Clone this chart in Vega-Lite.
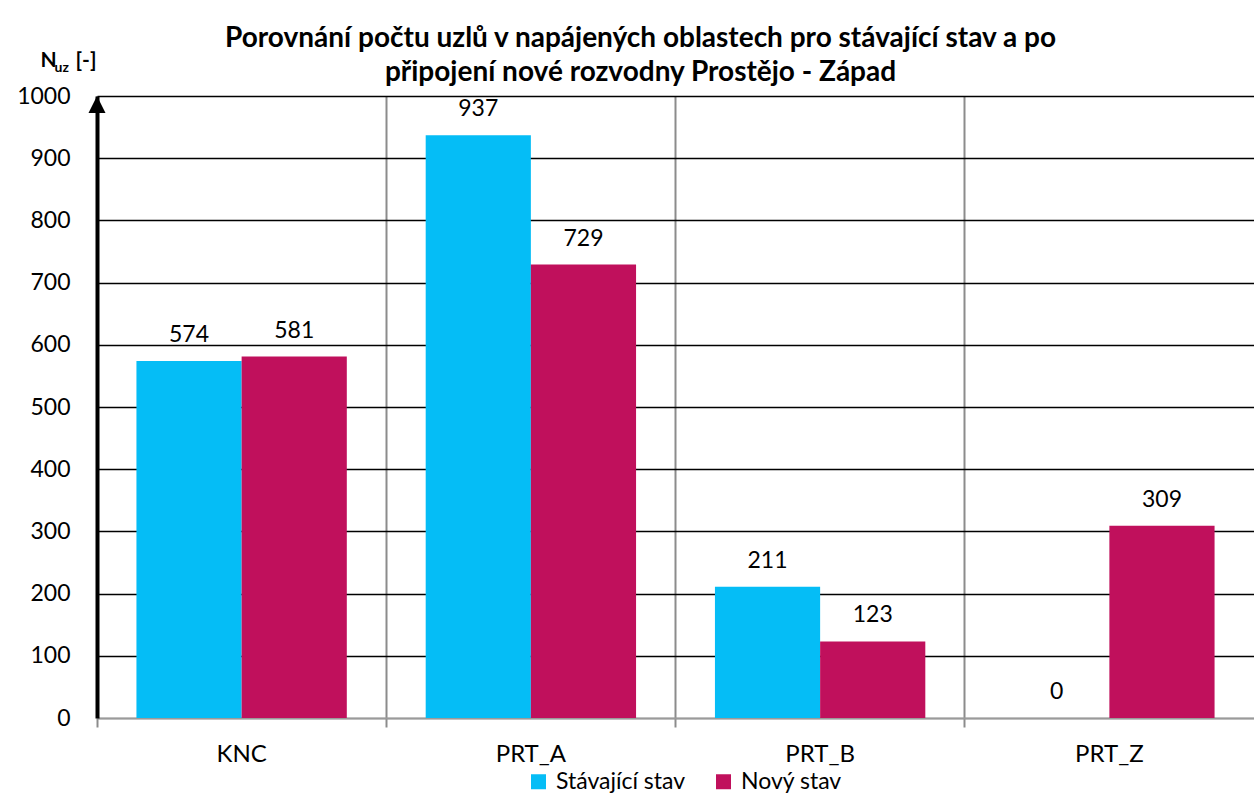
{
  "$schema": "https://vega.github.io/schema/vega-lite/v6.json",
  "width": 1157,
  "height": 622,
  "autosize": {"type": "none"},
  "padding": {"left": 97, "top": 96, "right": 0, "bottom": 78},
  "background": "white",
  "config": {
    "font": "Lato",
    "view": {"stroke": null},
    "axis": {"labelFont": "Lato", "titleFont": "Lato"}
  },
  "title": {
    "text": ["Porovnání počtu uzlů v napájených oblastech pro stávající stav a po", "připojení nové rozvodny Prostějo - Západ"],
    "font": "Lato",
    "fontSize": 28,
    "fontWeight": "bold",
    "color": "black",
    "anchor": "middle",
    "dx": -35,
    "offset": -38,
    "lineHeight": 34
  },
  "data": {
    "values": [
      {"oblast": "KNC", "stav": "Stávající stav", "uzly": 574},
      {"oblast": "KNC", "stav": "Nový stav", "uzly": 581},
      {"oblast": "PRT_A", "stav": "Stávající stav", "uzly": 937},
      {"oblast": "PRT_A", "stav": "Nový stav", "uzly": 729},
      {"oblast": "PRT_B", "stav": "Stávající stav", "uzly": 211},
      {"oblast": "PRT_B", "stav": "Nový stav", "uzly": 123},
      {"oblast": "PRT_Z", "stav": "Stávající stav", "uzly": 0},
      {"oblast": "PRT_Z", "stav": "Nový stav", "uzly": 309}
    ]
  },
  "resolve": {"axis": {"y": "independent"}},
  "layer": [
    {
      "mark": {"type": "bar"},
      "encoding": {
        "x": {
          "field": "oblast", "type": "nominal", "sort": null,
          "scale": {"paddingInner": 0, "paddingOuter": 0},
          "axis": {
            "title": null, "labelAngle": 0, "bandPosition": 0,
            "grid": true,
            "gridColor": {"condition": {"test": "datum.value === 'KNC'", "value": "transparent"}, "value": "#8c8c8c"},
            "gridWidth": 2,
            "domainColor": "#9a9a9a", "domainWidth": 2,
            "ticks": true, "tickColor": "#8c8c8c", "tickWidth": 2, "tickSize": 9,
            "labelFontSize": 24, "labelColor": "black", "labelPadding": 15,
            "zindex": 0
          }
        },
        "xOffset": {
          "field": "stav", "type": "nominal", "sort": ["Stávající stav", "Nový stav"],
          "scale": {"paddingInner": 0, "paddingOuter": 0.375}
        },
        "y": {
          "field": "uzly", "type": "quantitative",
          "scale": {"domain": [0, 1000], "nice": false},
          "axis": {
            "orient": "left",
            "values": [0, 100, 200, 300, 400, 500, 600, 700, 800, 900, 1000],
            "format": "d",
            "grid": true,
            "gridColor": {"condition": {"test": "datum.value === 0", "value": "#9a9a9a"}, "value": "black"},
            "gridWidth": 1.6,
            "domain": true, "domainColor": "black", "domainWidth": 4,
            "ticks": false, "labelPadding": 27, "labelFontSize": 23, "labelColor": "black",
            "title": "N", "titleAngle": 0, "titleAlign": "left", "titleBaseline": "alphabetic",
            "titleX": -57, "titleY": -30, "titleFontSize": 21, "titleFontWeight": "bold", "titleColor": "black",
            "zindex": 0
          }
        },
        "color": {
          "field": "stav", "type": "nominal", "sort": ["Stávající stav", "Nový stav"],
          "scale": {"domain": ["Stávající stav", "Nový stav"], "range": ["#05BDF6", "#C0105C"]},
          "legend": {
            "title": null, "orient": "none", "direction": "horizontal",
            "legendX": 430, "legendY": 674,
            "symbolType": "square", "symbolSize": 225, "symbolStrokeWidth": 0,
            "labelFontSize": 23, "labelColor": "black", "columnPadding": 26, "labelOffset": 6
          }
        }
      }
    },
    {
      "mark": {"type": "text", "fontSize": 23, "color": "black", "baseline": "alphabetic", "dy": -19},
      "encoding": {
        "x": {"field": "oblast", "type": "nominal", "sort": null},
        "xOffset": {"field": "stav", "type": "nominal", "sort": ["Stávající stav", "Nový stav"]},
        "y": {
          "field": "uzly", "type": "quantitative",
          "axis": {
            "orient": "left", "labels": false, "ticks": false, "domain": false, "grid": false,
            "title": "uz", "titleAngle": 0, "titleAlign": "left", "titleBaseline": "alphabetic",
            "titleX": -43, "titleY": -25, "titleFontSize": 14, "titleFontWeight": "bold", "titleColor": "black"
          }
        },
        "text": {"field": "uzly", "type": "quantitative"}
      }
    },
    {
      "data": {"values": [{"v": 1000}]},
      "mark": {"type": "point", "shape": "M0,-1L1,1L-1,1Z", "filled": true, "color": "black", "opacity": 1, "size": 289, "yOffset": 8.5},
      "encoding": {
        "x": {"datum": "KNC", "type": "nominal", "bandPosition": 0},
        "y": {
          "field": "v", "type": "quantitative",
          "axis": {
            "orient": "left", "labels": false, "ticks": false, "domain": false, "grid": false,
            "title": "[-]", "titleAngle": 0, "titleAlign": "left", "titleBaseline": "alphabetic",
            "titleX": -22, "titleY": -30, "titleFontSize": 21, "titleFontWeight": "bold", "titleColor": "black"
          }
        }
      }
    }
  ]
}
